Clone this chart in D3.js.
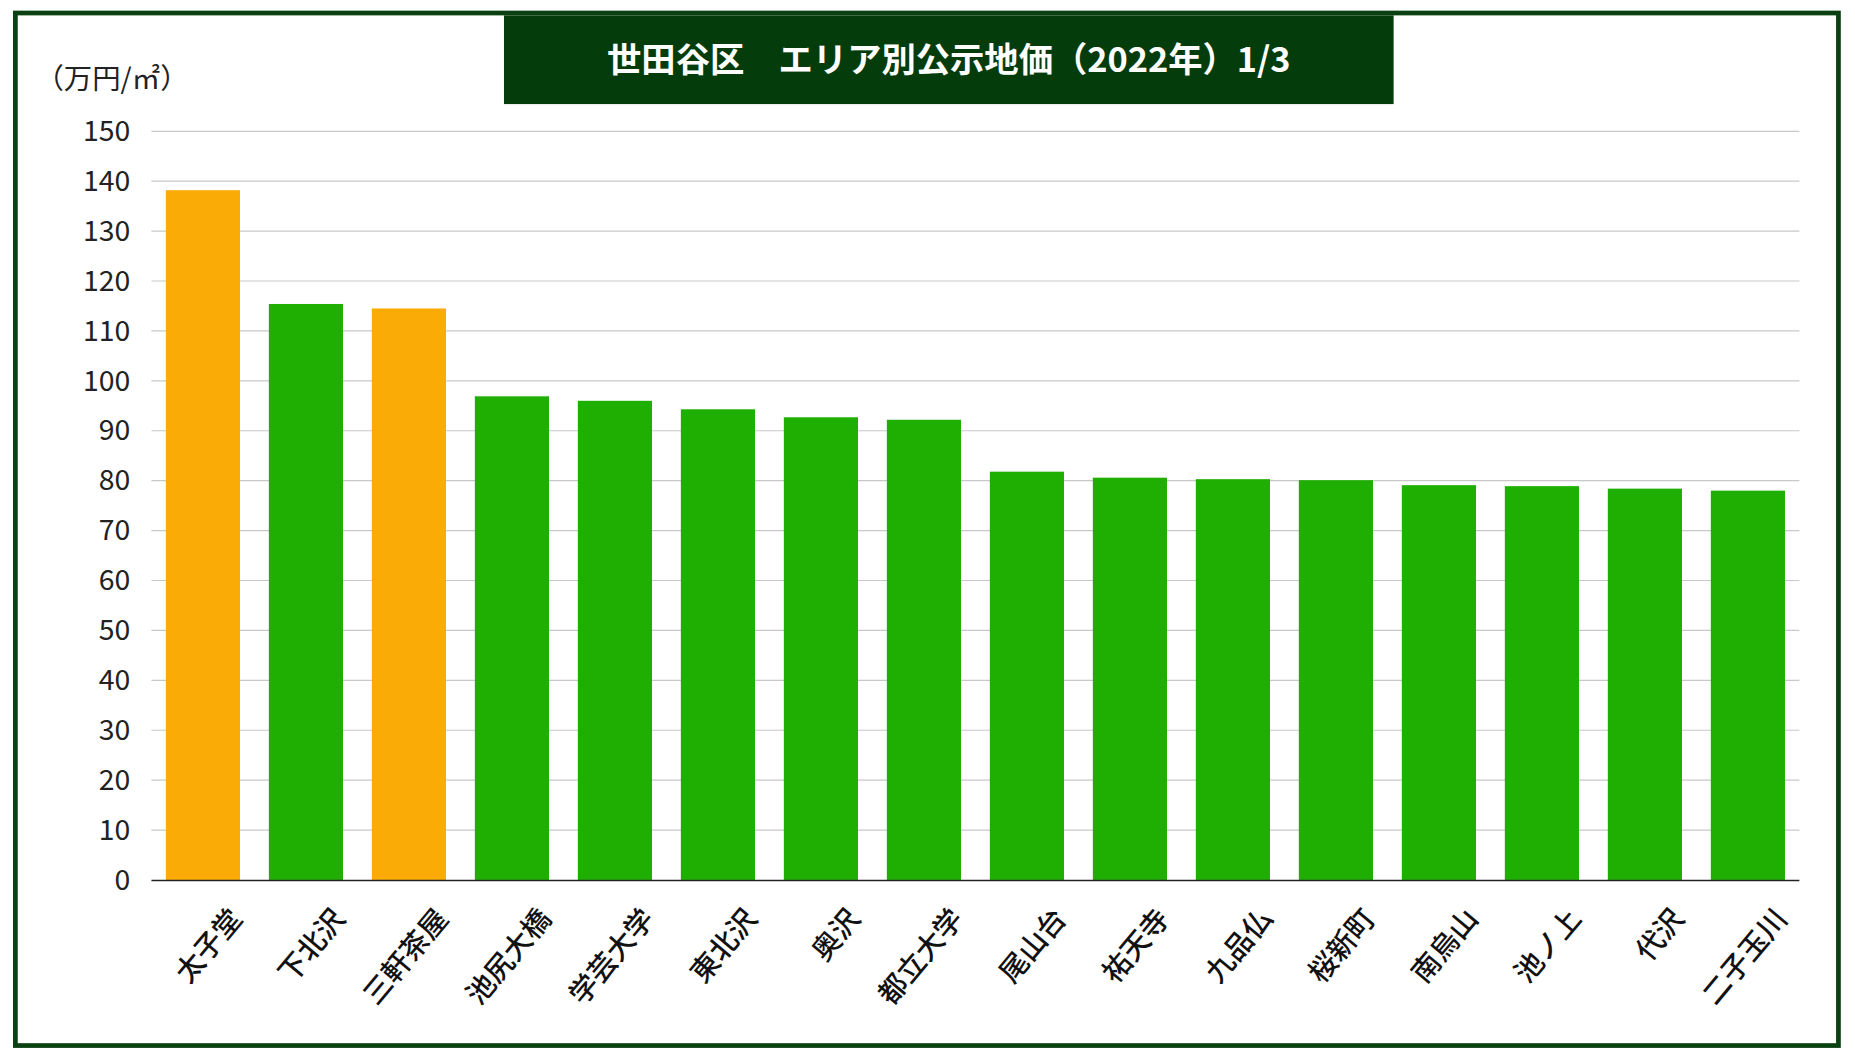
<!DOCTYPE html>
<html><head><meta charset="utf-8">
<script src="https://cdn.jsdelivr.net/npm/d3@7"></script>
<style>body{margin:0;background:#fff}svg{display:block}text{font-family:"Noto Sans CJK JP","Noto Sans",sans-serif}</style>
</head><body><svg id="c" width="1855" height="1055" viewBox="0 0 1568 892" preserveAspectRatio="none"></svg>
<script>
const categories=["太子堂","下北沢","三軒茶屋","池尻大橋","学芸大学","東北沢","奥沢","都立大学","尾山台","祐天寺","九品仏","桜新町","南烏山","池ノ上","代沢","二子玉川"];
const values=[138.2,115.4,114.5,96.9,96.0,94.3,92.7,92.2,81.8,80.6,80.3,80.1,79.1,78.9,78.4,78.0];
const highlighted=["太子堂","三軒茶屋"];
const yTicks=[0,10,20,30,40,50,60,70,80,90,100,110,120,130,140,150];
const title="世田谷区　エリア別公示地価（2022年）1/3";
const unit="（万円/㎡）";

const svg=d3.select("#c");
svg.append("rect").attr("x",13).attr("y",11).attr("width",1541).attr("height",873).attr("fill","#fff").attr("stroke","#0b4012").attr("stroke-width",4);
const x=d3.scaleBand().domain(categories).range([128,1521]).paddingInner(0.28).paddingOuter(0.14);
const y=d3.scaleLinear().domain([0,150]).range([744,111]);
svg.append("g").selectAll("line").data(yTicks.filter(d=>d>0)).join("line")
 .attr("x1",128).attr("x2",1521).attr("y1",d=>y(d)).attr("y2",d=>y(d)).attr("stroke","#c8c8c8").attr("stroke-width",1);
svg.append("g").selectAll("rect").data(categories).join("rect")
 .attr("x",d=>x(d)).attr("width",x.bandwidth()).attr("y",(d,i)=>y(values[i])).attr("height",(d,i)=>y(0)-y(values[i]))
 .attr("fill",d=>highlighted.includes(d)?"#fbab05":"#1faf03");
const ya=svg.append("g").attr("transform","translate(128,0)").call(d3.axisLeft(y).tickValues(yTicks).tickSize(0).tickPadding(18));
ya.select(".domain").remove();
ya.selectAll("text").attr("font-size",24).attr("fill","#222");
svg.append("line").attr("x1",128).attr("x2",1521).attr("y1",744.5).attr("y2",744.5).attr("stroke","#222").attr("stroke-width",1.2);
svg.append("g").selectAll("text").data(categories).join("text")
 .attr("transform",d=>`translate(${x(d)+x.bandwidth()/2+28},772) rotate(-50)`)
 .attr("text-anchor","end").attr("dy","0.35em").attr("font-size",24).attr("font-weight",500).attr("fill","#111").text(d=>d);
svg.append("text").attr("x",30).attr("y",75).attr("font-size",24).attr("fill","#222").text(unit);
svg.append("rect").attr("x",426).attr("y",13).attr("width",752).attr("height",75).attr("fill","#053c0c");
svg.append("text").attr("x",802).attr("y",51).attr("dy","0.35em").attr("text-anchor","middle").attr("font-size",29).attr("font-weight",700).attr("fill","#fff").text(title);
</script></body></html>
